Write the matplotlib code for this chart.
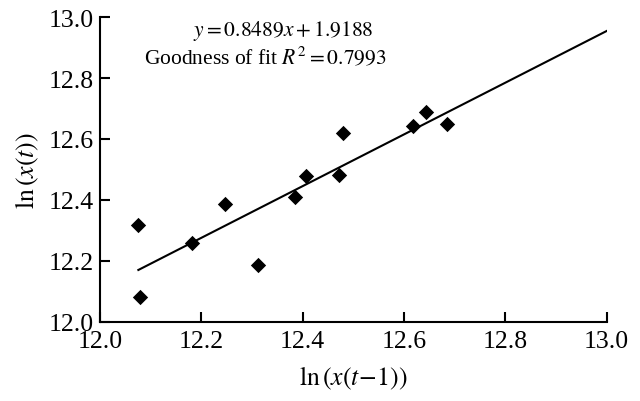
import numpy as np
import matplotlib.pyplot as plt

# log of the series at t-1 and at t
ln_prev = [12.076, 12.079, 12.182, 12.247, 12.312, 12.385, 12.407, 12.471, 12.479, 12.617, 12.644, 12.684]
ln_curr = [12.317, 12.081, 12.257, 12.385, 12.185, 12.410, 12.477, 12.482, 12.620, 12.643, 12.690, 12.649]

# fitted line y = a*x + b
slope = 0.8489
intercept = 1.9188
r2 = 0.7993

x_ticks = [12.0, 12.2, 12.4, 12.6, 12.8, 13.0]
y_ticks = [12.0, 12.2, 12.4, 12.6, 12.8, 13.0]

plt.rcParams['font.family'] = ['Liberation Serif', 'DejaVu Serif']
plt.rcParams['mathtext.fontset'] = 'stix'

fig = plt.figure(figsize=(6.4, 4.02), dpi=100)
ax = fig.add_axes([0.156, 0.197, 0.792, 0.758])

ax.scatter(ln_prev, ln_curr, marker='D', s=7.8**2, color='black', zorder=3, linewidths=0)

xfit = np.array([min(ln_prev), 13.0])
ax.plot(xfit, slope * xfit + intercept, color='black', lw=1.5)

ax.set_xlim(12.0, 13.0)
ax.set_ylim(12.0, 13.0)
ax.set_xticks(x_ticks)
ax.set_yticks(y_ticks)
ax.set_xticklabels([f'{v:.1f}' for v in x_ticks])
ax.set_yticklabels([f'{v:.1f}' for v in y_ticks])

for side in ['top', 'right']:
    ax.spines[side].set_visible(False)
for side in ['left', 'bottom']:
    ax.spines[side].set_linewidth(1.5)
ax.tick_params(direction='in', length=7, width=1.5, labelsize=18.5, pad=4)
ax.tick_params(axis='x', pad=6)

ax.set_xlabel(r'$\mathrm{ln}\,(x(t\!-\!1))$', fontsize=18.5, labelpad=8)
ax.set_ylabel(r'$\mathrm{ln}\,(x(t))$', fontsize=18.5, labelpad=6)

# regression equation and R^2
ax.text(12.361, 12.958, rf'$y = {slope}x + {intercept}$', ha='center', va='center', fontsize=15.5)
ax.text(12.327, 12.870, rf'Goodness of fit $R^2 = {r2}$', ha='center', va='center', fontsize=15.5)

plt.savefig('out.png', dpi=100)
